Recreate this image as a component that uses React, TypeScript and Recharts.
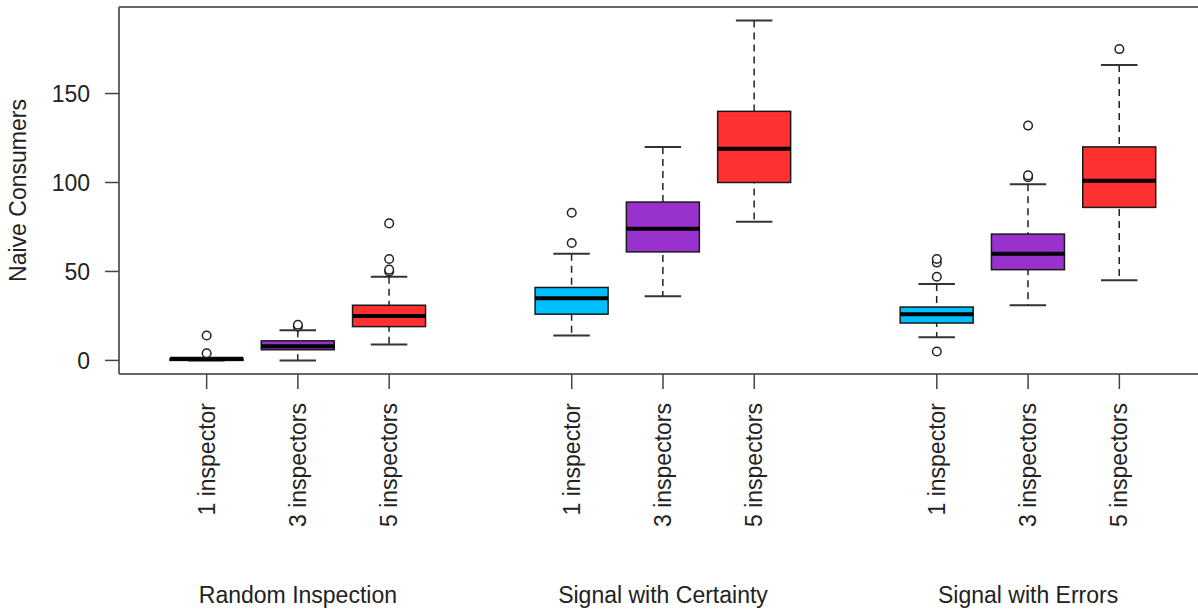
import React from "react";
import { Bar, CartesianGrid, ComposedChart, Line, XAxis, YAxis } from "recharts";

const groups = ["Random Inspection", "Signal with Certainty", "Signal with Errors"];
const inspectorLabels = ["1 inspector", "3 inspectors", "5 inspectors"];
const boxColors = ["#00BFFF", "#9932CC", "#FF3030"];

// one entry per box, in drawing order (group by group)
const whiskerLow = [0, 0, 9, 14, 36, 78, 13, 31, 45];
const q1 = [0, 6, 19, 26, 61, 100, 21, 51, 86];
const median = [1, 8, 25, 35, 74, 119, 26, 60, 101];
const q3 = [1, 11, 31, 41, 89, 140, 30, 71, 120];
const whiskerHigh = [1, 17, 47, 60, 120, 191, 43, 99, 166];
const outliers = [
  [4, 14],
  [19, 20],
  [50, 51, 57, 77],
  [66, 83],
  [],
  [],
  [5, 47, 55, 57],
  [103, 104, 132],
  [175],
];
const yTicks = [0, 50, 100, 150];

const rows: any[] = [];
groups.forEach((g, gi) => {
  if (gi > 0) rows.push({ slot: `gap${gi}` });
  inspectorLabels.forEach((lab, li) => {
    const i = gi * 3 + li;
    const row: any = {
      slot: `b${i}`,
      label: lab,
      group: li === 1 ? g : "",
      color: boxColors[li],
      whisker: [whiskerLow[i], whiskerHigh[i]],
      box: [q1[i], q3[i]],
      median: median[i],
    };
    outliers[i].forEach((v, k) => (row[`o${k}`] = v));
    rows.push(row);
  });
});
const boxSlots = rows.filter((r) => r.label).map((r) => r.slot);
const maxOut = Math.max(...outliers.map((o) => o.length));

const allVals = [...whiskerLow, ...whiskerHigh, ...outliers.flat()];
const vMin = Math.min(...allVals);
const vMax = Math.max(...allVals);
const pad = (vMax - vMin) * 0.04;

const FONT = "'Liberation Sans', Arial, sans-serif";
const TEXT = "#222";
const FRAME = "#666";
const BOX_W = 73;
const PAD = { left: 42, right: 42 };

const WhiskerShape = (p: any) => {
  if (p.height == null || p.payload?.whisker == null) return <g />;
  const cx = p.x + p.width / 2;
  const top = Math.min(p.y, p.y + p.height);
  const bot = Math.max(p.y, p.y + p.height);
  const hw = p.width / 4;
  return (
    <g stroke="#222">
      <line x1={cx} x2={cx} y1={top} y2={bot} strokeWidth={1.5} strokeDasharray="7 5" />
      <line x1={cx - hw} x2={cx + hw} y1={top} y2={top} strokeWidth={2} stroke="#333" />
      <line x1={cx - hw} x2={cx + hw} y1={bot} y2={bot} strokeWidth={2} stroke="#333" />
    </g>
  );
};

const BoxShape = (p: any) => {
  if (p.height == null || p.payload?.box == null) return <g />;
  const top = Math.min(p.y, p.y + p.height);
  return (
    <rect
      x={p.x}
      y={top}
      width={p.width}
      height={Math.abs(p.height)}
      fill={p.payload.color}
      stroke="#1a1a1a"
      strokeWidth={1.5}
    />
  );
};

const MedianDot = (p: any) => {
  if (p.cy == null || p.value == null) return <g key={p.index} />;
  return (
    <line
      key={p.index}
      x1={p.cx - BOX_W / 2}
      x2={p.cx + BOX_W / 2}
      y1={p.cy}
      y2={p.cy}
      stroke="#000"
      strokeWidth={4}
    />
  );
};

const OutlierDot = (p: any) => {
  if (p.cy == null || p.value == null) return <g key={p.index} />;
  return <circle key={p.index} cx={p.cx} cy={p.cy} r={4.3} fill="#fff" stroke="#222" strokeWidth={1.5} />;
};

const XTick = (p: any) => {
  const row = rows.find((r) => r.slot === p.payload.value);
  if (!row) return <g />;
  return (
    <g fontFamily={FONT} fontSize={23} fill={TEXT}>
      <text
        x={p.x}
        y={p.y}
        transform={`rotate(-90 ${p.x} ${p.y})`}
        textAnchor="end"
        dominantBaseline="central"
      >
        {row.label}
      </text>
      {row.group && (
        <text x={p.x} y={p.y + 192} textAnchor="middle" dominantBaseline="central">
          {row.group}
        </text>
      )}
    </g>
  );
};

export default function App() {
  return (
    <div
      style={{
        position: "absolute",
        left: 0,
        top: 0,
        width: 1198,
        height: 611,
        overflow: "hidden",
        background: "#fff",
      }}
    >
      <ComposedChart width={1215} height={611} data={rows} margin={{ top: 7, right: 8, left: 0, bottom: 0 }}>
        {/* top edge of the plot frame */}
        <CartesianGrid
          vertical={false}
          horizontalCoordinatesGenerator={(props: any) => [props.offset.top]}
          stroke={FRAME}
          strokeWidth={2}
        />
        <XAxis
          xAxisId="main"
          dataKey="slot"
          padding={PAD}
          ticks={boxSlots}
          interval={0}
          height={237}
          tick={<XTick />}
          tickSize={15}
          tickMargin={14}
          axisLine={{ stroke: FRAME, strokeWidth: 2 }}
          tickLine={{ stroke: "#444", strokeWidth: 1.5 }}
        />
        <XAxis xAxisId="whisker" dataKey="slot" padding={PAD} height={0} hide />
        <XAxis xAxisId="box" dataKey="slot" padding={PAD} height={0} hide />
        <YAxis
          type="number"
          domain={[vMin - pad, vMax + pad]}
          ticks={yTicks}
          width={119}
          tickSize={14}
          tickMargin={15}
          axisLine={{ stroke: FRAME, strokeWidth: 2 }}
          tickLine={{ stroke: "#444", strokeWidth: 1.5 }}
          tick={{ fontFamily: FONT, fontSize: 23, fill: TEXT }}
          label={{
            content: (lp: any) => {
              const vb = lp.viewBox || { y: 7, height: 367 };
              const cy = vb.y + vb.height / 2;
              return (
                <text
                  x={18}
                  y={cy}
                  transform={`rotate(-90 18 ${cy})`}
                  textAnchor="middle"
                  dominantBaseline="central"
                  fontFamily={FONT}
                  fontSize={23}
                  fill={TEXT}
                >
                  Naive Consumers
                </text>
              );
            },
          }}
        />
        <Bar
          xAxisId="whisker"
          dataKey="whisker"
          barSize={BOX_W}
          shape={<WhiskerShape />}
          isAnimationActive={false}
        />
        <Bar xAxisId="box" dataKey="box" barSize={BOX_W} shape={<BoxShape />} isAnimationActive={false} />
        <Line
          xAxisId="main"
          dataKey="median"
          stroke="none"
          dot={MedianDot}
          activeDot={false}
          isAnimationActive={false}
        />
        {Array.from({ length: maxOut }, (_, k) => (
          <Line
            key={k}
            xAxisId="main"
            dataKey={`o${k}`}
            stroke="none"
            dot={OutlierDot}
            activeDot={false}
            isAnimationActive={false}
          />
        ))}
      </ComposedChart>
    </div>
  );
}
